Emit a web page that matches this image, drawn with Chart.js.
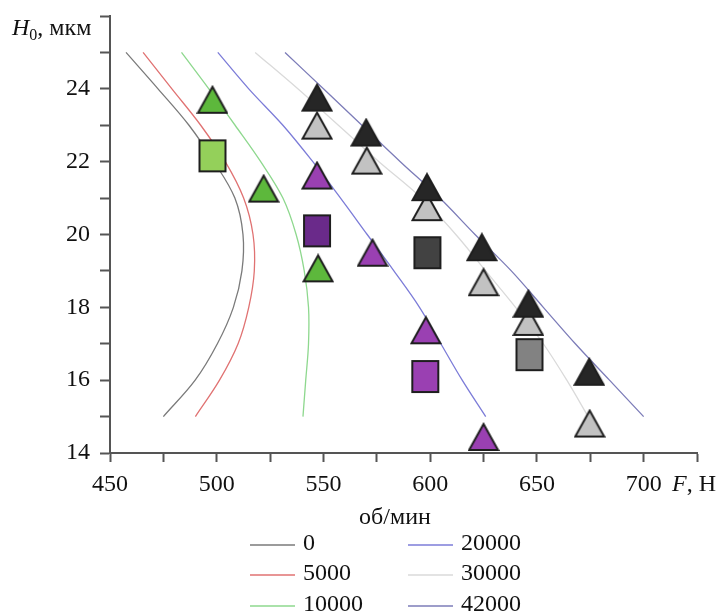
<!DOCTYPE html>
<html>
<head>
<meta charset="utf-8">
<script src="https://cdn.jsdelivr.net/npm/chart.js@4.4.1/dist/chart.umd.min.js"></script>
<style>
  html, body { margin: 0; padding: 0; background: #fff; }
  #wrap { width: 726px; height: 613px; }
</style>
</head>
<body>
<div id="wrap"><canvas id="chart" width="726" height="613"></canvas></div>
<script>
// curves: F (Н) read at each H0 level
const hLevels = [25, 24, 23, 22, 21, 20, 19, 18, 17, 16, 15];
const f0 = [457.5, 472.5, 487, 498.7, 508.5, 512.3, 511.8, 507.8, 500.3, 489.9, 475];
const f5000 = [465.5, 479, 492.5, 504, 512.6, 517, 517.6, 515, 510, 501.3, 490];
const f10000 = [483.5, 496.3, 508.6, 520.6, 531, 537.2, 541, 543, 543, 541.7, 540.4];
const f20000 = [500.5, 515, 531, 545, 558, 570.5, 583, 595, 605, 615, 626];
const f30000 = [518, 538, 557, 576, 596, 612, 626, 640, 653, 664, 674];
const f42000 = [532, 550, 568, 586, 604.5, 621, 638, 653, 668, 684, 700];

const curveNames = ['0', '5000', '10000', '20000', '30000', '42000'];
const curveColors = ['#7a7a7a', '#e07272', '#8ed88e', '#7c7cd8', '#dadada', '#7c7cb8'];
const curveValues = [f0, f5000, f10000, f20000, f30000, f42000];

// experimental markers
const greenTriF = [498, 522, 547.5];
const greenTriH = [23.7, 21.26, 19.07];
const lightGreenSqF = [498];
const lightGreenSqH = [22.16];
const purpleTriF = [547, 573, 598, 625];
const purpleTriH = [21.62, 19.5, 17.37, 14.44];
const darkPurpleSqF = [547];
const darkPurpleSqH = [20.1];
const purpleSqF = [597.7];
const purpleSqH = [16.1];
const blackTriF = [547, 570, 598.5, 624.2, 646, 674.5];
const blackTriH = [23.76, 22.8, 21.3, 19.65, 18.1, 16.23];
const grayTriF = [547, 570.3, 598.5, 625, 646, 674.7];
const grayTriH = [22.99, 22.03, 20.75, 18.69, 17.6, 14.81];
const darkSqF = [598.7];
const darkSqH = [19.5];
const graySqF = [646.5];
const graySqH = [16.7];

const FONT = "'Liberation Serif', 'Times New Roman', serif";

function triangle(fill) {
  const c = document.createElement('canvas');
  c.width = 32; c.height = 30;
  const g = c.getContext('2d');
  g.beginPath();
  g.moveTo(16, 2);
  g.lineTo(30.5, 28);
  g.lineTo(1.5, 28);
  g.closePath();
  g.fillStyle = fill;
  g.fill();
  g.lineWidth = 2;
  g.lineJoin = 'miter';
  g.strokeStyle = '#1e1e1e';
  g.stroke();
  return c;
}

function rectMark(fill) {
  const c = document.createElement('canvas');
  c.width = 30; c.height = 35;
  const g = c.getContext('2d');
  g.fillStyle = fill;
  g.fillRect(2, 2, 26, 31);
  g.lineWidth = 2;
  g.strokeStyle = '#1e1e1e';
  g.strokeRect(2, 2, 26, 31);
  return c;
}

function pts(xs, ys) {
  return xs.map((x, i) => ({ x: x, y: ys[i] }));
}

let datasets = [];

function markers(xs, ys, img) {
  datasets.push({
    data: pts(xs, ys),
    showLine: false,
    pointStyle: img,
    pointRadius: 15,
    order: 1
  });
}

markers(greenTriF, greenTriH, triangle('#5db83c'));
markers(lightGreenSqF, lightGreenSqH, rectMark('#94d05a'));
markers(purpleTriF, purpleTriH, triangle('#9a40b2'));
markers(darkPurpleSqF, darkPurpleSqH, rectMark('#6a2a8a'));
markers(purpleSqF, purpleSqH, rectMark('#9a40b2'));
markers(blackTriF, blackTriH, triangle('#262626'));
markers(grayTriF, grayTriH, triangle('#c2c2c2'));
markers(darkSqF, darkSqH, rectMark('#424242'));
markers(graySqF, graySqH, rectMark('#828282'));

curveValues.forEach((vals, i) => {
  datasets.push({
    label: curveNames[i],
    data: pts(vals, hLevels),
    showLine: true,
    borderColor: curveColors[i],
    borderWidth: 1.3,
    pointRadius: 0,
    tension: 0.35,
    fill: false,
    order: 2
  });
});

// titles and the two-column legend
const extras = {
  id: 'extras',
  afterDraw(chart) {
    const ctx = chart.ctx;
    ctx.save();
    ctx.fillStyle = '#111';
    ctx.textBaseline = 'alphabetic';

    // y title
    let x = 12;
    ctx.font = 'italic 24px ' + FONT;
    ctx.fillText('H', x, 35);
    x += ctx.measureText('H').width;
    ctx.font = '16px ' + FONT;
    ctx.fillText('0', x, 40);
    x += ctx.measureText('0').width;
    ctx.font = '24px ' + FONT;
    ctx.fillText(', мкм', x, 35);

    // x title
    x = 672;
    ctx.font = 'italic 24px ' + FONT;
    ctx.fillText('F', x, 491);
    x += ctx.measureText('F').width;
    ctx.font = '24px ' + FONT;
    ctx.fillText(', Н', x, 491);

    // legend
    ctx.textAlign = 'center';
    ctx.fillText('об/мин', 395, 524);
    ctx.textAlign = 'left';
    const rows = [544, 574, 605];
    const cols = [[250, 295], [408, 453]];
    curveNames.forEach((name, i) => {
      const col = cols[Math.floor(i / 3)];
      const y = rows[i % 3];
      ctx.strokeStyle = curveColors[i];
      ctx.lineWidth = 1.5;
      ctx.beginPath();
      ctx.moveTo(col[0], y + 1);
      ctx.lineTo(col[1], y + 1);
      ctx.stroke();
      ctx.textBaseline = 'middle';
      ctx.fillText(name, col[1] + 8, y);
    });
    ctx.restore();
  }
};

new Chart(document.getElementById('chart'), {
  type: 'scatter',
  data: { datasets: datasets },
  options: {
    responsive: false,
    animation: false,
    layout: { padding: { top: 16, right: 29, left: 0, bottom: 0 } },
    plugins: {
      legend: { display: false },
      tooltip: { enabled: false }
    },
    scales: {
      x: {
        type: 'linear',
        min: 450,
        max: 725,
        afterFit: (s) => { s.height = 160; s.paddingLeft = 0; s.paddingRight = 0; },
        border: { color: '#555', width: 2 },
        grid: { drawOnChartArea: false, drawTicks: true, tickLength: 9, tickColor: '#555', tickWidth: 2 },
        ticks: {
          stepSize: 25,
          autoSkip: false,
          maxRotation: 0,
          color: '#111',
          padding: 8,
          font: { family: FONT, size: 24 },
          callback: (v) => (v % 50 === 0 && v <= 700 ? v : '')
        }
      },
      y: {
        type: 'linear',
        min: 14,
        max: 26,
        afterFit: (s) => { s.width = 110; s.paddingTop = 0; s.paddingBottom = 0; },
        border: { color: '#555', width: 2 },
        grid: { drawOnChartArea: false, drawTicks: true, tickLength: 10, tickColor: '#555', tickWidth: 2 },
        ticks: {
          stepSize: 1,
          autoSkip: false,
          color: '#111',
          padding: 10,
          font: { family: FONT, size: 24 },
          callback: (v) => (v % 2 === 0 && v <= 24 ? v : '')
        }
      }
    }
  },
  plugins: [extras]
});
</script>
</body>
</html>
